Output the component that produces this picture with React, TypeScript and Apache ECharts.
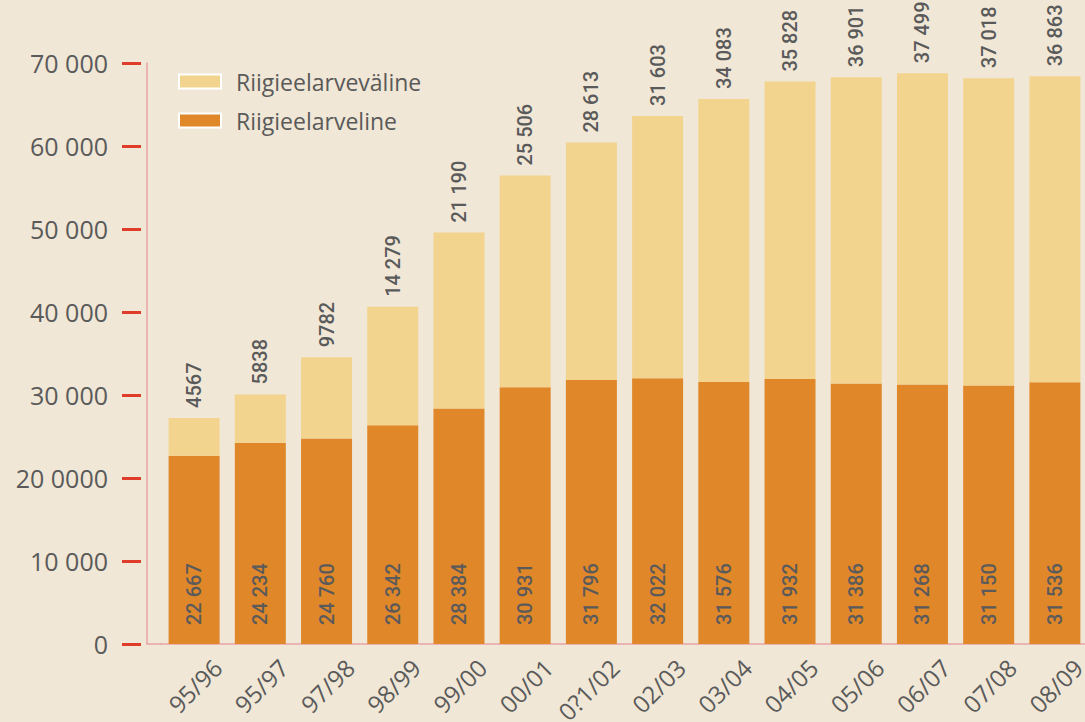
import React, { useEffect, useRef } from "react";
import * as echarts from "echarts";

const categories = ["95/96", "95/97", "97/98", "98/99", "99/00", "00/01", "0?1/02", "02/03", "03/04", "04/05", "05/06", "06/07", "07/08", "08/09"];
const riigieelarveline = [22667, 24234, 24760, 26342, 28384, 30931, 31796, 32022, 31576, 31932, 31386, 31268, 31150, 31536];
const riigieelarvevaline = [4567, 5838, 9782, 14279, 21190, 25506, 28613, 31603, 34083, 35828, 36901, 37499, 37018, 36863];
const yTickLabels: Record<number, string> = {
  0: "0",
  10000: "10 000",
  20000: "20 0000",
  30000: "30 000",
  40000: "40 000",
  50000: "50 000",
  60000: "60 000",
  70000: "70 000",
};

const fmt = (n: number) => {
  const s = String(n);
  return n >= 10000 ? s.slice(0, s.length - 3) + " " + s.slice(-3) : s;
};

const TEXT = "#5a5a5a";
const PINK = "#e9a2ab";

export default function App() {
  const ref = useRef<HTMLDivElement>(null);
  useEffect(() => {
    const chart = echarts.init(ref.current!, null, { renderer: "svg" });
    const barLabel = {
      show: true,
      rotate: 90,
      align: "left",
      verticalAlign: "middle",
      color: TEXT,
      fontFamily: "Roboto, sans-serif",
      fontWeight: 500,
      fontSize: 20,
      formatter: (p: any) => fmt(p.value),
    };
    chart.setOption({
      animation: false,
      backgroundColor: "#f0e7d6",
      textStyle: { fontFamily: "'Open Sans', sans-serif" },
      grid: { left: 161, top: 63, width: 927, height: 581, containLabel: false, outerBoundsMode: "none" },
      legend: {
        orient: "vertical",
        left: 178,
        top: 70,
        padding: 0,
        itemWidth: 42,
        itemHeight: 14,
        itemGap: 16,
        icon: "rect",
        data: ["Riigieelarveväline", "Riigieelarveline"],
        textStyle: { color: TEXT, fontSize: 23, fontFamily: "'Open Sans', sans-serif", padding: [0, 0, 0, 10] },
        itemStyle: { borderColor: "#ffffff", borderWidth: 2 },
      },
      xAxis: {
        type: "category",
        data: categories,
        axisLine: { show: true, lineStyle: { color: PINK, width: 1.5 } },
        axisTick: { show: false },
        axisLabel: {
          rotate: 45,
          interval: 0,
          color: TEXT,
          fontSize: 24,
          fontFamily: "'Open Sans', sans-serif",
          margin: -4,
          verticalAlign: "top",
          lineHeight: 66,
        },
      },
      yAxis: [
        {
          type: "value",
          min: 0,
          max: 70000,
          interval: 10000,
          position: "left",
          offset: 14,
          axisLine: { show: true, lineStyle: { color: PINK, width: 1.5 } },
          axisTick: { show: false },
          axisLabel: { show: false },
          splitLine: { show: false },
        },
        {
          type: "value",
          min: 0,
          max: 70000,
          interval: 10000,
          position: "left",
          offset: 20,
          axisLine: { show: false },
          axisTick: { show: true, length: 19, lineStyle: { color: "#e03c2a", width: 3 } },
          axisLabel: {
            margin: 33,
            color: TEXT,
            fontSize: 25,
            fontFamily: "'Open Sans', sans-serif",
            formatter: (v: number) => yTickLabels[v] ?? String(v),
          },
          splitLine: { show: false },
        },
      ],
      series: [
        {
          name: "Riigieelarveline",
          type: "bar",
          stack: "total",
          yAxisIndex: 0,
          barWidth: 51,
          data: riigieelarveline,
          itemStyle: { color: "#e0872a" },
          label: { ...barLabel, position: "insideBottom", distance: 19 },
        },
        {
          name: "Riigieelarveväline",
          type: "bar",
          stack: "total",
          yAxisIndex: 0,
          barWidth: 51,
          data: riigieelarvevaline,
          itemStyle: { color: "#f3d48f" },
          label: { ...barLabel, position: "top", distance: 10 },
        },
      ],
      graphic: [
        {
          type: "line",
          shape: { x1: 147, y1: 644, x2: 162, y2: 644 },
          style: { stroke: PINK, lineWidth: 1.5 },
        },
      ],
    });
    return () => chart.dispose();
  }, []);
  return <div ref={ref} style={{ position: "absolute", left: 0, top: 0, width: 1085, height: 722 }} />;
}
